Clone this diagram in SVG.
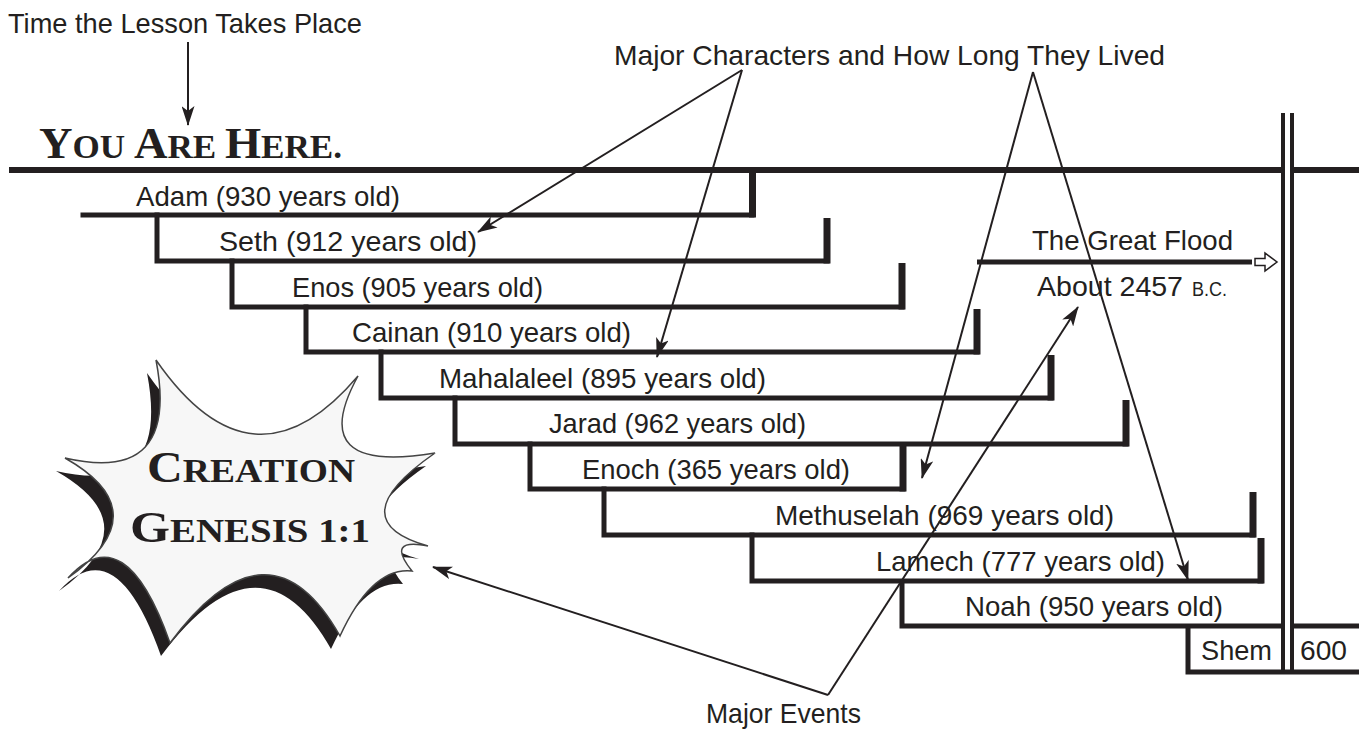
<svg xmlns="http://www.w3.org/2000/svg" width="1359" height="734" viewBox="0 0 1359 734">
<style>
.lbl{font-family:"Liberation Sans",Arial,sans-serif;font-size:28px;fill:#231f20;}
.hdr{font-family:"Liberation Sans",Arial,sans-serif;font-size:28px;fill:#231f20;}
.sc{font-family:"Liberation Serif","Times New Roman",serif;font-weight:bold;fill:#231f20;}
.bar{stroke:#231f20;stroke-width:5;fill:none;stroke-linecap:square;}
.tick{stroke:#231f20;stroke-width:7;fill:none;}
.vline{stroke:#231f20;stroke-width:4;fill:none;}
.arr{stroke:#231f20;stroke-width:2;fill:none;marker-end:url(#ah);}
</style>
<defs>
<marker id="ah" markerUnits="userSpaceOnUse" viewBox="0 0 20 13" refX="19" refY="6.5" markerWidth="20" markerHeight="13" orient="auto">
<path d="M0,0 L20,6.5 L0,13 L5,6.5 Z" fill="#231f20"/>
</marker>
<path id="burst" d="M156,360 Q253,500 358,376 Q303.5,475 435,453 Q338,520.5 428,546 Q385,537.5 412,571 Q372,566.5 340,636 Q269,510 170,643 Q125,515 68,578 Q160,512 65,458 Q180,485 156,360 Z"/>
</defs>
<rect width="1359" height="734" fill="#ffffff"/>

<g id="timeline">
<line class="bar" x1="9" y1="170" x2="1281" y2="170" style="stroke-width:6;stroke-linecap:butt"/>
<line class="bar" x1="1294" y1="170" x2="1359" y2="170" style="stroke-width:6;stroke-linecap:butt"/>
<line class="vline" x1="1283" y1="113" x2="1283" y2="674"/>
<line class="vline" x1="1292" y1="113" x2="1292" y2="674"/>
</g>

<g id="adam">
<path class="bar" d="M83,215 H752"/>
<line class="tick" x1="752.5" y1="172" x2="752.5" y2="217.5"/>
<text class="lbl" x="268" y="206" text-anchor="middle" textLength="264" lengthAdjust="spacingAndGlyphs">Adam (930 years old)</text>
</g>
<g id="seth">
<path class="bar" d="M157,215 V261 H827"/>
<line class="tick" x1="827" y1="218" x2="827" y2="263.5"/>
<text class="lbl" x="348" y="251" text-anchor="middle" textLength="258" lengthAdjust="spacingAndGlyphs">Seth (912 years old)</text>
</g>
<g id="enos">
<path class="bar" d="M232,261 V307 H902"/>
<line class="tick" x1="902" y1="263" x2="902" y2="309.5"/>
<text class="lbl" x="417.5" y="297" text-anchor="middle" textLength="251" lengthAdjust="spacingAndGlyphs">Enos (905 years old)</text>
</g>
<g id="cainan">
<path class="bar" d="M306,307 V352 H977"/>
<line class="tick" x1="977" y1="309" x2="977" y2="354.5"/>
<text class="lbl" x="491.5" y="342" text-anchor="middle" textLength="279" lengthAdjust="spacingAndGlyphs">Cainan (910 years old)</text>
</g>
<g id="mahalaleel">
<path class="bar" d="M381,352 V398 H1051"/>
<line class="tick" x1="1051" y1="355" x2="1051" y2="400.5"/>
<text class="lbl" x="602.5" y="388" text-anchor="middle" textLength="327" lengthAdjust="spacingAndGlyphs">Mahalaleel (895 years old)</text>
</g>
<g id="jarad">
<path class="bar" d="M455,398 V444 H1126"/>
<line class="tick" x1="1126" y1="400" x2="1126" y2="446.5"/>
<text class="lbl" x="677.5" y="433" text-anchor="middle" textLength="257" lengthAdjust="spacingAndGlyphs">Jarad (962 years old)</text>
</g>
<g id="enoch">
<path class="bar" d="M530,444 V489 H903"/>
<line class="tick" x1="903" y1="446" x2="903" y2="491.5"/>
<text class="lbl" x="716" y="479" text-anchor="middle" textLength="268" lengthAdjust="spacingAndGlyphs">Enoch (365 years old)</text>
</g>
<g id="methuselah">
<path class="bar" d="M604,489 V535 H1253"/>
<line class="tick" x1="1253" y1="492" x2="1253" y2="537.5"/>
<text class="lbl" x="944.5" y="525" text-anchor="middle" textLength="339" lengthAdjust="spacingAndGlyphs">Methuselah (969 years old)</text>
</g>
<g id="lamech">
<path class="bar" d="M752,535 V581 H1261"/>
<line class="tick" x1="1261" y1="538" x2="1261" y2="583.5"/>
<text class="lbl" x="1020.5" y="571" text-anchor="middle" textLength="289" lengthAdjust="spacingAndGlyphs">Lamech (777 years old)</text>
</g>
<g id="noah">
<path class="bar" d="M902,581 V626 H1281" style="stroke-linecap:butt"/>
<line class="bar" x1="1294" y1="626" x2="1359" y2="626" style="stroke-linecap:butt"/>
<text class="lbl" x="1094" y="616" text-anchor="middle" textLength="258" lengthAdjust="spacingAndGlyphs">Noah (950 years old)</text>
</g>
<g id="shem">
<path class="bar" d="M1188,626 V672 H1359" style="stroke-linecap:butt"/>
<text class="lbl" x="1236.5" y="660" text-anchor="middle" textLength="71" lengthAdjust="spacingAndGlyphs">Shem</text>
<text class="lbl" x="1323.5" y="660" text-anchor="middle" textLength="47" lengthAdjust="spacingAndGlyphs">600</text>
</g>

<g id="flood">
<line class="bar" x1="977" y1="262" x2="1252" y2="262" style="stroke-linecap:butt"/>
<path d="M1255,258.5 H1265 V253 L1277,262 L1265,271 V265.5 H1255 Z" fill="#ffffff" stroke="#231f20" stroke-width="1.5"/>
<text class="lbl" x="1132.5" y="250" text-anchor="middle" textLength="201" lengthAdjust="spacingAndGlyphs">The Great Flood</text>
<text class="lbl" x="1037" y="296" textLength="146" lengthAdjust="spacingAndGlyphs">About 2457</text>
<text class="lbl" x="1192" y="296" style="font-size:20px" textLength="35" lengthAdjust="spacingAndGlyphs">B.C.</text>
</g>

<g id="you-are-here">
<text class="sc" x="39" y="158" textLength="303" lengthAdjust="spacingAndGlyphs"><tspan font-size="45">Y</tspan><tspan font-size="34">OU </tspan><tspan font-size="45">A</tspan><tspan font-size="34">RE </tspan><tspan font-size="45">H</tspan><tspan font-size="34">ERE.</tspan></text>
</g>

<g id="creation">
<use href="#burst" transform="translate(-9 13)" fill="#231f20"/>
<use href="#burst" fill="#f7f7f7" stroke="#444" stroke-width="1.5"/>
<text class="sc" x="147" y="482" textLength="208" lengthAdjust="spacingAndGlyphs"><tspan font-size="45">C</tspan><tspan font-size="34">REATION</tspan></text>
<text class="sc" x="130" y="542" textLength="240" lengthAdjust="spacingAndGlyphs"><tspan font-size="45">G</tspan><tspan font-size="34">ENESIS 1:1</tspan></text>
</g>

<g id="labels">
<text class="hdr" x="8" y="33" textLength="354" lengthAdjust="spacingAndGlyphs">Time the Lesson Takes Place</text>
<text class="hdr" x="614" y="65" textLength="551" lengthAdjust="spacingAndGlyphs">Major Characters and How Long They Lived</text>
<text class="hdr" x="706" y="723" textLength="155" lengthAdjust="spacingAndGlyphs">Major Events</text>
</g>

<g id="connectors">
<line class="arr" x1="188" y1="42" x2="188" y2="125"/>
<line class="arr" x1="742" y1="70" x2="478" y2="232"/>
<line class="arr" x1="742" y1="70" x2="657" y2="357"/>
<line class="arr" x1="1033" y1="72" x2="922" y2="478"/>
<line class="arr" x1="1033" y1="72" x2="1188" y2="580"/>
<line class="arr" x1="828" y1="695" x2="433" y2="567"/>
<line class="arr" x1="828" y1="695" x2="1078" y2="307"/>
</g>
</svg>
